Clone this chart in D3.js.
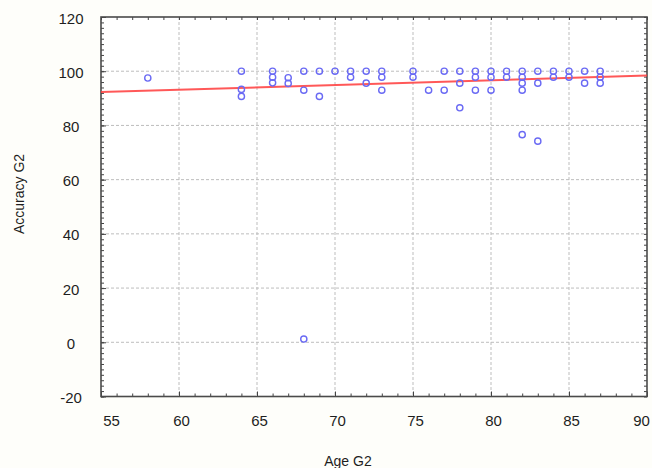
<!DOCTYPE html>
<html>
<head>
<meta charset="utf-8">
<script src="https://cdn.jsdelivr.net/npm/d3@7"></script>
<style>
  html, body { margin: 0; padding: 0; background: #fefefa; }
  svg { display: block; }
  text { font-family: "Liberation Sans", Arial, sans-serif; }
</style>
</head>
<body>
<svg id="chart" width="652" height="468"></svg>
<script>
// ---- data ----
const ageG2 = [
  58,
  64, 64, 64,
  66, 66, 66,
  67, 67,
  68, 68, 68,
  69, 69,
  70,
  71, 71,
  72, 72,
  73, 73, 73,
  75, 75,
  76,
  77, 77,
  78, 78, 78,
  79, 79, 79,
  80, 80, 80,
  81, 81,
  82, 82, 82, 82, 82,
  83, 83, 83,
  84, 84,
  85, 85,
  86, 86,
  87, 87, 87
];
const accuracyG2 = [
  97.5,
  100, 93.3, 90.7,
  100, 97.8, 95.7,
  97.6, 95.5,
  100, 93, 1.2,
  100, 90.7,
  100,
  100, 97.8,
  100, 95.6,
  100, 97.8, 93,
  100, 97.8,
  93,
  100, 93,
  100, 95.6, 86.5,
  100, 97.8, 93,
  100, 97.8, 93,
  100, 97.8,
  100, 97.8, 95.6, 93, 76.6,
  100, 95.6, 74.2,
  100, 97.8,
  100, 97.8,
  100, 95.6,
  100, 97.8, 95.6
];
const fitAge = [55, 90];
const fitAccuracy = [92.3, 98.4];
const xTicks = [55, 60, 65, 70, 75, 80, 85, 90];
const yTicks = [-20, 0, 20, 40, 60, 80, 100, 120];
const xLabel = "Age G2";
const yLabel = "Accuracy G2";

// ---- layout ----
const L = 101, R = 647, T = 17, B = 396.5;
const svg = d3.select("#chart");
const x = d3.scaleLinear().domain([55, 90]).range([L, R]);
const y = d3.scaleLinear().domain([-20, 120]).range([B, T]);

svg.append("rect").attr("x", L).attr("y", T).attr("width", R - L).attr("height", B - T).attr("fill", "#ffffff");

// gridlines
const grid = svg.append("g").attr("stroke", "#bdbdbd").attr("stroke-width", 1).attr("stroke-dasharray", "3,2");
grid.selectAll("line.vx").data(xTicks.slice(1, -1)).join("line")
  .attr("x1", d => x(d)).attr("x2", d => x(d)).attr("y1", T).attr("y2", B);
grid.selectAll("line.hy").data(yTicks.slice(1, -1)).join("line")
  .attr("x1", L).attr("x2", R).attr("y1", d => y(d)).attr("y2", d => y(d));

// minor ticks
const xMinor = d3.range(55, 91, 1);
const yMinor = d3.range(-20, 121, 2);
function minorAxis(axis, tr) {
  const g = svg.append("g").attr("transform", tr).call(axis);
  g.selectAll("text").remove();
  g.select(".domain").remove();
  g.selectAll("line").attr("stroke", "#444");
}
minorAxis(d3.axisBottom(x).tickValues(xMinor).tickSize(-3), `translate(0,${B})`);
minorAxis(d3.axisTop(x).tickValues(xMinor).tickSize(-3), `translate(0,${T})`);
minorAxis(d3.axisLeft(y).tickValues(yMinor).tickSize(-3), `translate(${L},0)`);
minorAxis(d3.axisRight(y).tickValues(yMinor).tickSize(-3), `translate(${R},0)`);

// major axes with labels
const fmt = d => String(d);
const gx = svg.append("g").attr("transform", `translate(0,${B})`)
  .call(d3.axisBottom(x).tickValues(xTicks).tickFormat(fmt).tickSize(-5).tickPadding(19));
gx.select(".domain").remove();
gx.selectAll("line").attr("stroke", "#444");
gx.selectAll("text").attr("font-size", 15).attr("fill", "#1e1e1e")
  .attr("font-family", "'Liberation Sans', Arial, sans-serif")
  .attr("dx", (d, i) => i === 0 ? 10 : (i === xTicks.length - 1 ? -6 : 2));

const gy = svg.append("g").attr("transform", `translate(${L},0)`)
  .call(d3.axisLeft(y).tickValues(yTicks).tickFormat(fmt).tickSize(-5));
gy.select(".domain").remove();
gy.selectAll("line").attr("stroke", "#444");
gy.selectAll("text").attr("font-size", 15).attr("fill", "#1e1e1e")
  .attr("font-family", "'Liberation Sans', Arial, sans-serif")
  .attr("text-anchor", "middle").attr("x", -30).attr("dy", "0.4em");

// frame
svg.append("rect").attr("x", L).attr("y", T).attr("width", R - L).attr("height", B - T)
  .attr("fill", "none").attr("stroke", "#4a4a4a").attr("stroke-width", 1.6);

// regression line
svg.append("line")
  .attr("x1", x(fitAge[0])).attr("y1", y(fitAccuracy[0]))
  .attr("x2", x(fitAge[1])).attr("y2", y(fitAccuracy[1]))
  .attr("stroke", "#ff3b3b").attr("stroke-width", 2).attr("stroke-opacity", 0.85);

// points
svg.append("g").selectAll("circle").data(ageG2).join("circle")
  .attr("cx", d => x(d)).attr("cy", (d, i) => y(accuracyG2[i]))
  .attr("r", 3.1).attr("fill", "none").attr("stroke", "#6a6af4").attr("stroke-width", 1.4);

// axis titles
svg.append("text").attr("x", 348).attr("y", 466).attr("text-anchor", "middle")
  .attr("font-size", 14).attr("fill", "#1e1e1e").text(xLabel);
svg.append("text").attr("transform", "translate(24,194) rotate(-90)").attr("text-anchor", "middle")
  .attr("font-size", 14).attr("fill", "#1e1e1e").text(yLabel);
</script>
</body>
</html>
